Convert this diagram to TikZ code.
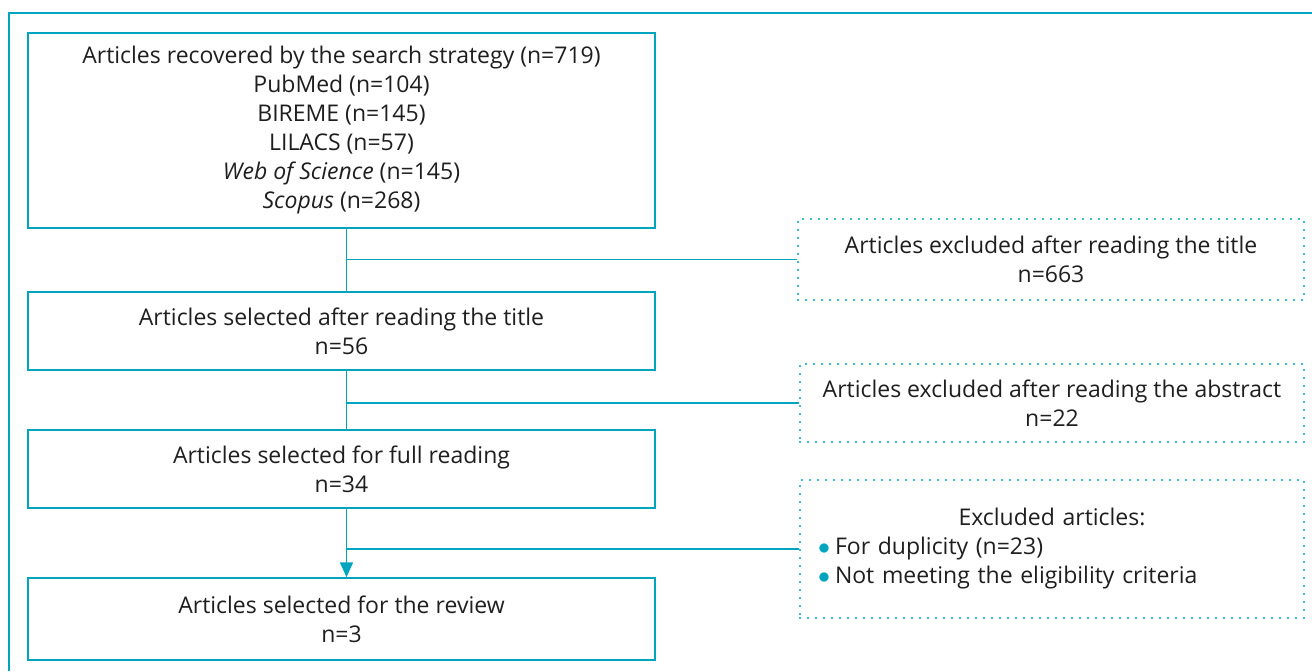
\documentclass[tikz,border=0pt]{standalone}
\usepackage{fontspec}
\setmainfont{Open Sans}
\usepackage{xcolor}
\usetikzlibrary{arrows.meta,positioning,calc}
\definecolor{flowteal}{RGB}{0, 164, 190}
\definecolor{fontgray}{RGB}{30, 30, 30}
\newcommand{\tealdot}{\textcolor{flowteal}{$\bullet$}\hspace{2.5pt}}

\begin{document}
\begin{tikzpicture}[x=0.5pt, y=-0.5pt, >=Stealth,
			every node/.style={font=\fontsize{11.5}{14.5}\selectfont, text=fontgray},
			mainBox/.style={draw=flowteal, line width=0.75pt, rectangle, minimum width=313.5pt, align=center, inner sep=0pt},
			exclBox/.style={draw=flowteal, line width=1.1pt, rectangle, dash pattern=on 0pt off 4pt, line cap=round, align=center, inner sep=0pt},
			flowLine/.style={line width=0.8pt, -, color=flowteal},
			flowArrow/.style={line width=0.8pt, -{Triangle[width=6.5pt,length=7.5pt]}, color=flowteal}
			]
			\useasboundingbox (0,0) rectangle (1312,671);
			% outer frame, cut by the page edge
			\draw[flowteal, line width=0.75pt] (9,671) -- (9,13) -- (1312,13);
			
			\node[mainBox, minimum height=97.5pt](recovered) at (341.5,130.5) {Articles recovered by the search strategy (n=719)\\
				PubMed (n=104)\\
				BIREME (n=145)\\
				LILACS (n=57)\\
				\textit{Web of Science} (n=145)\\
				\textit{Scopus} (n=268)};
			\node[mainBox, minimum height=39pt](title) at (341.5,331) {Articles selected after reading the title\\ n=56};
			\node[mainBox, minimum height=39pt](full) at (341.5,469) {Articles selected for full reading\\ n=34};
			\node[mainBox, minimum height=41pt](review) at (341.5,619) {Articles selected for the review\\ n=3};
			
			\node[exclBox, minimum width=253pt, minimum height=40.5pt](exTitle) at (1051,259.5) {Articles excluded after reading the title\\ n=663};
			\node[exclBox, minimum width=252pt, minimum height=39pt](exAbstract) at (1052,403) {Articles excluded after reading the abstract\\ n=22};
			\node[exclBox, minimum width=252pt, minimum height=69pt, align=left, text width=234pt](exOther) at (1052,549) {\makebox[\linewidth]{Excluded articles:}\\
				\tealdot For duplicity (n=23)\\
				\tealdot Not meeting the eligibility criteria};
			
			% connectors run a little right of the box centres
			\draw [flowLine] ([xshift=2.5pt]recovered.south) -- ([xshift=2.5pt]title.north);
			\draw [flowLine] ([xshift=2.5pt]recovered.south |- exTitle.west) -- (exTitle.west);
			\draw [flowLine] ([xshift=2.5pt]title.south) -- ([xshift=2.5pt]full.north);
			\draw [flowLine] ([xshift=2.5pt]title.south |- exAbstract.west) -- (exAbstract.west);
			\draw [flowArrow] ([xshift=2.5pt]full.south) -- ([xshift=2.5pt]review.north);
			\draw [flowLine] ([xshift=2.5pt]full.south |- exOther.west) -- (exOther.west);
\end{tikzpicture}
\end{document}
